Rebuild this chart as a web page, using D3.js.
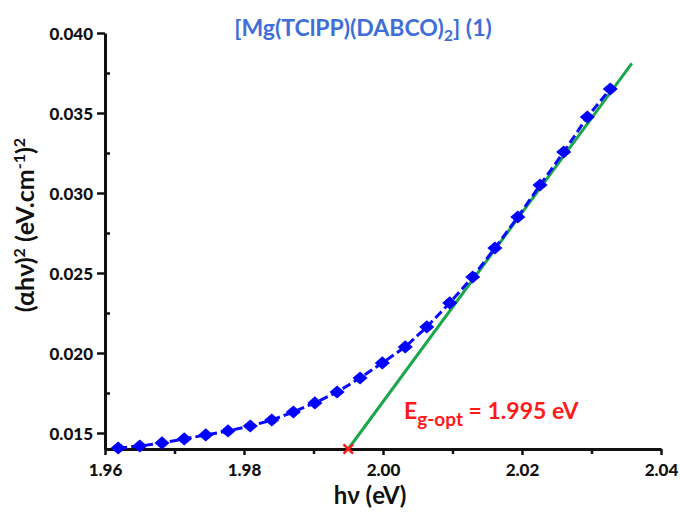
<!DOCTYPE html>
<html>
<head>
<meta charset="utf-8">
<script src="https://cdn.jsdelivr.net/npm/d3@7"></script>
<style>
  body { margin: 0; background: #fff; }
  svg { font-family: Lato, "Open Sans", sans-serif; }
  .tick text { font-weight: 900; font-size: 17px; fill: #111; }
</style>
</head>
<body>
<svg id="chart" width="680" height="512"></svg>
<script>
/******************** data ********************/
const energy = [1.9619, 1.9650, 1.9682, 1.9714, 1.9745, 1.9777, 1.9809, 1.9840, 1.9871, 1.9902,
  1.9934, 1.9967, 1.9999, 2.0032, 2.0063, 2.0096, 2.0129, 2.0161, 2.0194, 2.0226, 2.0260, 2.0294, 2.0327];
const absorb = [0.01406, 0.01419, 0.01438, 0.01463, 0.01488, 0.01513, 0.01544, 0.01581, 0.01631, 0.01688,
  0.01756, 0.01844, 0.01938, 0.02038, 0.02163, 0.02313, 0.02475, 0.02656, 0.02850, 0.03050, 0.03256, 0.03475, 0.03650];
const fitX = [1.995, 2.0358];
const fitY = [0.014, 0.0381];
const gapEnergy = 1.995;
const xTicks = [1.96, 1.98, 2.00, 2.02, 2.04];
const xMinor = [1.97, 1.99, 2.01, 2.03];
const yTicks = [0.015, 0.020, 0.025, 0.030, 0.035, 0.040];
const yMinor = [0.0175, 0.0225, 0.0275, 0.0325, 0.0375];

/******************** scales ********************/
const svg = d3.select("svg#chart");
const x = d3.scaleLinear().domain([1.96, 2.04]).range([105, 661]);
const y = d3.scaleLinear().domain([0.014, 0.040]).range([449, 33]);

//minor ticks first so the main axis line sits on top
svg.append("g")
  .attr("transform", "translate(0,449)")
  .call(d3.axisBottom(x).tickValues(xMinor).tickSize(5).tickFormat("").tickSizeOuter(0))
  .call(g => g.select(".domain").remove())
  .selectAll("line").attr("stroke", "#111").attr("stroke-width", 2.5);
svg.append("g")
  .attr("transform", "translate(105,0)")
  .call(d3.axisLeft(y).tickValues(yMinor).tickSize(-5).tickFormat("").tickSizeOuter(0))
  .call(g => g.select(".domain").remove())
  .selectAll("line").attr("stroke", "#111").attr("stroke-width", 2.5);

const xAxis = svg.append("g")
  .attr("transform", "translate(0,449)")
  .call(d3.axisBottom(x).tickValues(xTicks).tickSize(6).tickSizeOuter(0).tickPadding(9).tickFormat(d3.format(".2f")));
const yAxis = svg.append("g")
  .attr("transform", "translate(105,0)")
  .call(d3.axisLeft(y).tickValues(yTicks).tickSize(8).tickSizeOuter(0).tickPadding(4).tickFormat(d3.format(".3f")));

[xAxis, yAxis].forEach(a => {
  a.attr("font-family", null).attr("font-size", null);
  a.select(".domain").attr("stroke", "#111").attr("stroke-width", 3);
  a.selectAll(".tick line").attr("stroke", "#111").attr("stroke-width", 2.5);
});
yAxis.selectAll(".tick text").attr("dy", "0.36em");

/******************** fit line ********************/
svg.append("path")
  .datum(d3.zip(fitX, fitY))
  .attr("d", d3.line().x(d => x(d[0])).y(d => y(d[1])))
  .attr("stroke", "#1aa64a")
  .attr("stroke-width", 3)
  .attr("fill", "none");

/******************** data series ********************/
const pts = d3.zip(energy, absorb);
svg.append("path")
  .datum(pts)
  .attr("d", d3.line().x(d => x(d[0])).y(d => y(d[1])))
  .attr("stroke", "#0a0aff")
  .attr("stroke-width", 3)
  .attr("stroke-dasharray", "9,4")
  .attr("fill", "none");

svg.append("g").selectAll("path")
  .data(pts)
  .join("path")
  .attr("d", d3.symbol(d3.symbolDiamond2, 110))
  .attr("transform", d => `translate(${x(d[0])},${y(d[1])}) scale(1.15,1)`)
  .attr("fill", "#0000ff");

// red cross at the band-gap intercept
svg.append("path")
  .attr("d", d3.symbol(d3.symbolTimes, 60))
  .attr("transform", `translate(${x(gapEnergy)},${y(0.014)})`)
  .attr("stroke", "#ff1a1a")
  .attr("stroke-width", 2.5);

/******************** texts ********************/
const title = svg.append("text")
  .attr("x", 363).attr("y", 36)
  .attr("text-anchor", "middle")
  .attr("fill", "#3f6fd6")
  .style("font-size", "23px").style("font-weight", "bold");
title.append("tspan").text("[Mg(TClPP)(DABCO)");
title.append("tspan").attr("dy", 5).style("font-size", "16px").text("2");
title.append("tspan").attr("dy", -5).text("] (1)");

const eg = svg.append("text")
  .attr("x", 404).attr("y", 419)
  .attr("fill", "#ff1a1a")
  .style("font-size", "23px").style("font-weight", "bold");
eg.append("tspan").text("E");
eg.append("tspan").attr("dy", 7).style("font-size", "19px").text("g-opt");
eg.append("tspan").attr("dy", -7).text(" = 1.995 eV");

const xl = svg.append("text")
  .attr("x", 370).attr("y", 504)
  .attr("text-anchor", "middle")
  .attr("fill", "#111")
  .style("font-size", "24px").style("font-weight", "bold");
xl.append("tspan").text("hν (eV)");

const yl = svg.append("text")
  .attr("transform", "translate(34,225) rotate(-90)")
  .attr("text-anchor", "middle")
  .attr("fill", "#111")
  .style("font-size", "25px").style("font-weight", "bold");
yl.append("tspan").text("(αhν)");
yl.append("tspan").attr("dy", -9).style("font-size", "16px").text("2");
yl.append("tspan").attr("dy", 9).text(" (eV.cm");
yl.append("tspan").attr("dy", -9).style("font-size", "16px").text("-1");
yl.append("tspan").attr("dy", 9).text(")");
yl.append("tspan").attr("dy", -9).style("font-size", "16px").text("2");
</script>
</body>
</html>
